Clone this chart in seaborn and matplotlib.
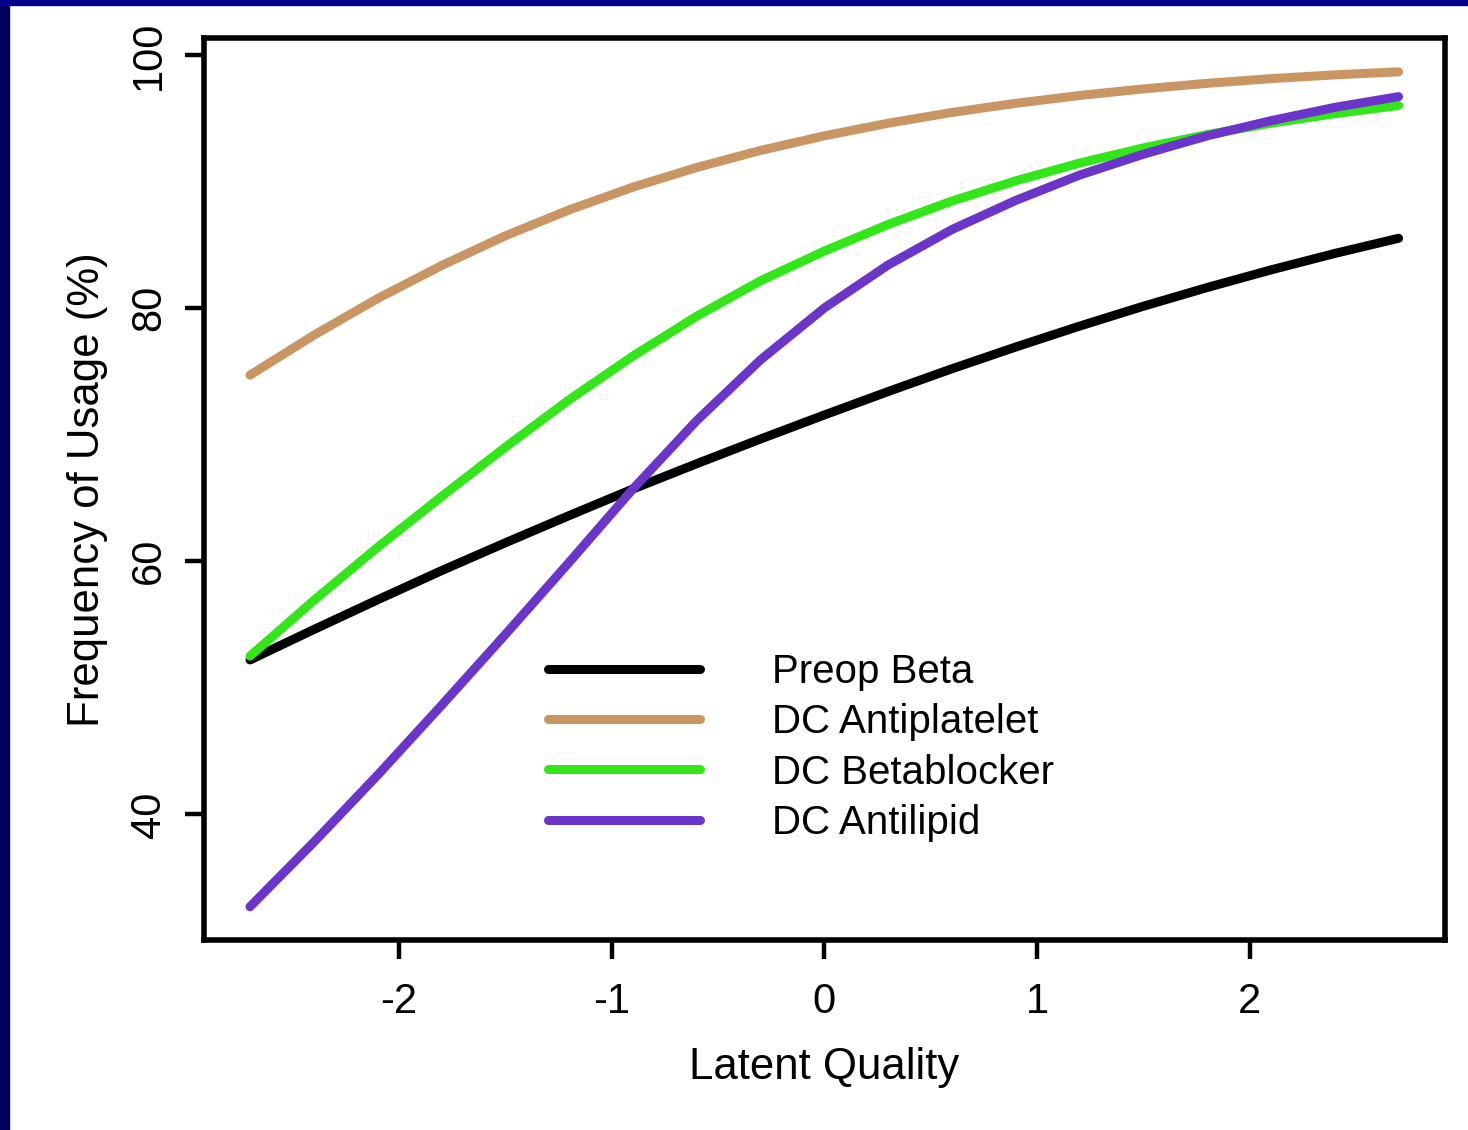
import matplotlib
matplotlib.use('Agg')
import matplotlib.pyplot as plt
import pandas as pd
import seaborn as sns
from matplotlib.patches import Rectangle

# values
latent_quality = [-2.7, -2.4, -2.1, -1.8, -1.5, -1.2, -0.9, -0.6, -0.3, 0.0,
                  0.3, 0.6, 0.9, 1.2, 1.5, 1.8, 2.1, 2.4, 2.7]
preop_beta = [52.2, 54.6, 56.95, 59.25, 61.45, 63.6, 65.7, 67.7, 69.65, 71.55,
              73.4, 75.2, 76.92, 78.57, 80.14, 81.62, 83.01, 84.31, 85.51]
dc_antiplatelet = [74.7, 77.85, 80.75, 83.35, 85.7, 87.75, 89.55, 91.1, 92.45,
                   93.6, 94.6, 95.45, 96.17, 96.79, 97.31, 97.75, 98.12,
                   98.42, 98.66]
dc_betablocker = [52.5, 56.9, 61.1, 65.1, 69.0, 72.75, 76.2, 79.35, 82.15,
                  84.5, 86.6, 88.45, 90.05, 91.45, 92.65, 93.7, 94.6, 95.35,
                  96.0]
dc_antilipid = [32.7, 37.8, 43.1, 48.6, 54.2, 59.9, 65.7, 71.1, 75.9, 80.0,
                83.4, 86.2, 88.5, 90.5, 92.15, 93.6, 94.8, 95.85, 96.7]

series_names = ['Preop Beta', 'DC Antiplatelet', 'DC Betablocker', 'DC Antilipid']
series_colors = ['#000000', '#C99663', '#32E619', '#6A35C8']
x_ticks = [-2, -1, 0, 1, 2]
y_ticks = [40, 60, 80, 100]

df = pd.DataFrame({
    'Latent Quality': latent_quality,
    'Preop Beta': preop_beta,
    'DC Antiplatelet': dc_antiplatelet,
    'DC Betablocker': dc_betablocker,
    'DC Antilipid': dc_antilipid,
})
df_long = df.melt(id_vars='Latent Quality', var_name='Series',
                  value_name='Frequency')

sns.set_theme(style='white')
plt.rcParams['font.family'] = ['Liberation Sans', 'DejaVu Sans']
plt.rcParams['axes.unicode_minus'] = False
plt.rcParams['text.color'] = 'black'
plt.rcParams['axes.labelcolor'] = 'black'

fig = plt.figure(figsize=(14.68, 11.3), dpi=100)
ax = fig.add_axes([0.139, 0.168, 0.845, 0.798])

sns.lineplot(data=df_long, x='Latent Quality', y='Frequency', hue='Series',
             hue_order=series_names, palette=series_colors, linewidth=6.5,
             ax=ax)
for line in ax.lines:
    line.set_solid_capstyle('round')
    line.set_solid_joinstyle('round')

# R style axis limits (4% padding)
x_lo, x_hi = min(latent_quality), max(latent_quality)
all_y = preop_beta + dc_antiplatelet + dc_betablocker + dc_antilipid
y_lo, y_hi = min(all_y), max(all_y)
ax.set_xlim(x_lo - 0.04 * (x_hi - x_lo), x_hi + 0.04 * (x_hi - x_lo))
ax.set_ylim(y_lo - 0.04 * (y_hi - y_lo), y_hi + 0.04 * (y_hi - y_lo))

ax.set_xticks(x_ticks)
ax.set_yticks(y_ticks)
ax.tick_params(axis='both', direction='out', length=14, width=3.2,
               color='black', labelsize=30, labelcolor='black',
               bottom=True, left=True)
ax.tick_params(axis='x', pad=16)
ax.tick_params(axis='y', pad=11)
for lab in ax.get_yticklabels():
    lab.set_rotation(90)
    lab.set_va('center')

for side in ['top', 'bottom', 'left', 'right']:
    ax.spines[side].set_visible(True)
    ax.spines[side].set_color('black')
    ax.spines[side].set_linewidth(4)

ax.set_xlabel('Latent Quality', fontsize=31.5, color='black', labelpad=18)
ax.set_ylabel('Frequency of Usage (%)', fontsize=31.5, color='black',
              labelpad=15)

handles, labels = ax.get_legend_handles_labels()
leg = ax.legend(handles, labels, loc='upper left',
                bbox_to_anchor=(0.277, 0.318), frameon=False, fontsize=29,
                handlelength=3.77, handletextpad=1.81, labelspacing=0.3,
                borderpad=0, borderaxespad=0)
for h in leg.get_lines():
    h.set_linewidth(6.5)
    h.set_solid_capstyle('round')
for t in leg.get_texts():
    t.set_color('black')

# navy frame strips on the top and left edges
fig.patches.append(Rectangle((0, 0), 9 / 1468, 1, transform=fig.transFigure,
                             color='#00005A', zorder=10))
fig.patches.append(Rectangle((0, 1 - 5 / 1130), 1, 5 / 1130,
                             transform=fig.transFigure, color='#00008C',
                             zorder=10))

fig.savefig('out.png', dpi=100, facecolor='white')
